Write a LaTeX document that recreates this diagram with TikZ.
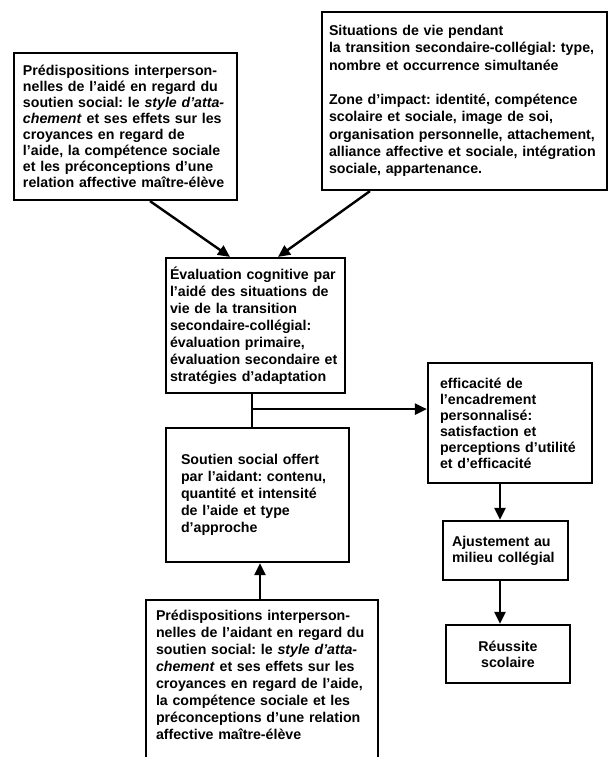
\documentclass[tikz,border=0pt]{standalone}
\usepackage{fontspec}
\setmainfont{Liberation Sans}
\usetikzlibrary{arrows.meta,calc}
\frenchspacing
\begin{document}
\begin{tikzpicture}[x=1pt,y=-1pt,
  bx/.style={draw, line width=2.2pt, align=left, anchor=center,
    font=\fontsize{14.2}{16}\selectfont\bfseries\frenchspacing, inner ysep=0pt},
  wide/.style={font=\fontsize{14.2}{17}\selectfont\bfseries\frenchspacing},
  arr/.style={line width=2.4pt, -{Triangle[length=12pt,width=11pt]}},
  ln/.style={line width=2.4pt}]
\useasboundingbox (0,0) rectangle (610,757);
\clip (0,0) rectangle (610,757);
\fill[white] (0,0) rectangle (610,757);

\node[bx, minimum width=223pt, minimum height=147pt, inner xsep=9pt, text width=205pt] (A) at (125.5,126.5)
{Prédispositions interperson-\\
nelles de l'aidé en regard du\\
soutien social: le \textit{style d'atta-}\\
\textit{chement} et ses effets sur les\\
croyances en regard de\\
l'aide, la compétence sociale\\
et les préconceptions d'une\\
relation affective maître-élève};

\node[bx, font=\fontsize{14.2}{17.3}\selectfont\bfseries\frenchspacing, minimum width=285pt, minimum height=178pt, inner xsep=7pt, text width=271pt] (B) at (464.5,101)
{Situations de vie pendant\\
la transition secondaire-collégial: type,\\
nombre et occurrence simultanée\\[17pt]
Zone d'impact: identité, compétence\\
scolaire et sociale, image de soi,\\
organisation personnelle, attachement,\\
alliance affective et sociale, intégration\\
sociale, appartenance.};

\node[bx, wide, minimum width=179pt, minimum height=135pt, inner xsep=4pt, text width=171pt] (C) at (255.5,325.5)
{Évaluation cognitive par\\
l'aidé des situations de\\
vie de la transition\\
secondaire-collégial:\\
évaluation primaire,\\
évaluation secondaire et\\
stratégies d'adaptation};

\node[bx, wide, minimum width=183pt, minimum height=134pt, inner xsep=15pt, text width=153pt] (D) at (257.5,495)
{Soutien social offert\\
par l'aidant: contenu,\\
quantité et intensité\\
de l'aide et type\\
d'approche\\[10pt]};

\node[bx, minimum width=164pt, minimum height=120pt, inner xsep=12pt, text width=140pt] (E) at (510,423)
{efficacité de\\
l'encadrement\\
personnalisé:\\
satisfaction et\\
perceptions d'utilité\\
et d'efficacité};

\node[bx, minimum width=125pt, minimum height=59pt, inner xsep=9pt, text width=107pt] (G) at (505.5,550.5)
{Ajustement au\\
milieu collégial};

\node[bx, minimum width=124pt, minimum height=58pt, inner xsep=8pt, text width=108pt, align=center] (H) at (508,654)
{Réussite\\
scolaire};

\node[bx, wide, anchor=north, minimum width=232pt, inner xsep=10pt, text width=212pt, inner ysep=10pt, text depth=170pt] (F) at (262,599)
{Prédispositions interperson-\\
nelles de l'aidant en regard du\\
soutien social: le \textit{style d'atta-}\\
\textit{chement} et ses effets sur les\\
croyances en regard de l'aide,\\
la compétence sociale et les\\
préconceptions d'une relation\\
affective maître-élève};

\draw[arr] ([xshift=24.5pt]A.south) -- ([xshift=-25.5pt]C.north);
\draw[arr] ([xshift=-94.5pt]B.south) -- ([xshift=22.5pt]C.north);
\draw[ln] ([xshift=-3.5pt]C.south) -- ([xshift=-3.5pt]C.south |- D.north);
\coordinate (br) at ($([xshift=-3.5pt]C.south)+(0,15)$);
\draw[arr] (br) -- (br -| E.west);
\draw[arr] ([xshift=-2pt]F.north) -- ([xshift=-2pt]F.north |- D.south);
\draw[arr] ([xshift=-10pt]E.south) -- ([xshift=-10pt]E.south |- G.north);
\draw[arr] ([xshift=-5.5pt]G.south) -- ([xshift=-5.5pt]G.south |- H.north);
\end{tikzpicture}
\end{document}
